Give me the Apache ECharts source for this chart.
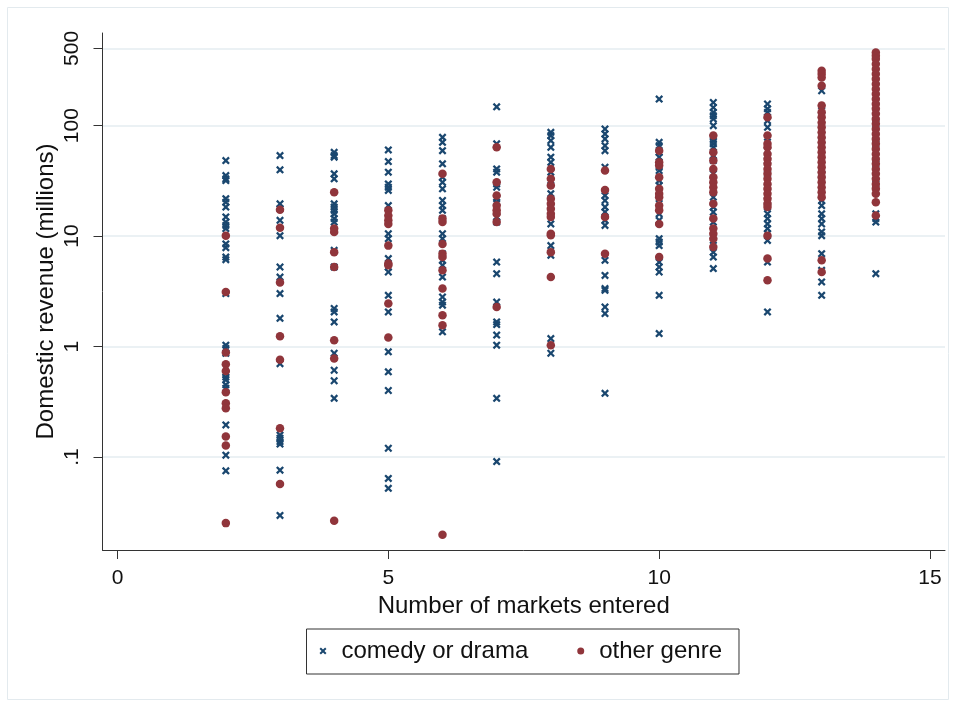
<!DOCTYPE html>
<html>
<head>
<meta charset="utf-8">
<script src="https://cdn.jsdelivr.net/npm/echarts@6/dist/echarts.min.js"></script>
<style>
html,body{margin:0;padding:0;background:#fff;}
#chart{width:956px;height:702px;}
</style>
</head>
<body>
<div id="chart"></div>
<script>
// Number of markets entered (x categories present in data)
const markets = [2, 3, 4, 5, 6, 7, 8, 9, 10, 11, 12, 13, 14];

// Domestic revenue (millions), comedy or drama, one list per market count
const comedyByMarkets = [
  [48.3, 35.3, 33, 31.8, 21.8, 20.3, 18.3, 14.9, 13.4, 12.5, 11.7, 8.5, 7.85, 6.46, 6.12, 3.02, 1.03, 0.96, 0.87, 0.57, 0.53, 0.50, 0.45, 0.42, 0.195, 0.104, 0.075],
  [53.6, 39.8, 19.6, 17.7, 13.9, 10.1, 5.25, 4.26, 3.02, 1.80, 0.70, 0.158, 0.148, 0.138, 0.131, 0.076, 0.0296],
  [57.4, 53.6, 51.8, 36.6, 33.0, 19.6, 18.3, 17.1, 15.9, 14.4, 13.4, 7.43, 5.25, 2.21, 2.06, 1.67, 0.87, 0.61, 0.49, 0.34],
  [60.3, 47.3, 37.9, 29.7, 27.7, 25.9, 18.9, 10.5, 9.48, 6.26, 5.25, 4.73, 2.91, 2.06, 0.896, 0.59, 0.40, 0.12, 0.064, 0.052],
  [78.4, 70.6, 59.4, 45.1, 34.1, 30.7, 26.8, 21.0, 18.9, 17.1, 14.4, 10.5, 9.48, 6.93, 6.03, 5.44, 4.26, 2.81, 2.53, 2.37, 1.36],
  [148, 68.4, 40.6, 37.9, 29.7, 27.7, 21.8, 20.3, 14.9, 13.4, 5.82, 4.57, 2.53, 1.67, 1.58, 1.27, 1.03, 0.34, 0.091],
  [87, 81.3, 73.2, 63.7, 51.8, 46.6, 37.9, 31.8, 24.2, 18.3, 12.9, 8.2, 6.7, 1.18, 0.87],
  [93.3, 84.1, 75.9, 65.9, 59.4, 42, 23.3, 21.0, 18.3, 16.5, 13.9, 12.5, 6.03, 4.41, 3.35, 3.23, 2.28, 1.99, 0.377],
  [174, 70.6, 65.9, 57.4, 51.8, 42, 39.2, 31.8, 28.7, 21.8, 15.9, 13.9, 9.48, 8.84, 8.2, 5.82, 5.25, 4.73, 2.91, 1.31],
  [162, 146, 132, 123, 115, 100, 78.4, 73.2, 68.4, 63.7, 53.6, 48.3, 36.6, 31.8, 22.5, 18.3, 16.5, 13.4, 9.14, 7.16, 6.46, 5.08],
  [157, 142, 132, 111, 96.5, 78.4, 59.4, 48.3, 36.6, 27.7, 21.0, 18.3, 15.9, 14.4, 12.9, 11.7, 10.5, 9.14, 5.82, 2.06],
  [207, 137, 73.2, 36.6, 21.0, 18.9, 15.9, 14.4, 12.9, 10.9, 10.1, 6.93, 4.9, 3.85, 2.91],
  [386, 255, 168, 104, 68.4, 45.1, 29.7, 15.9, 14.4, 13.4, 4.57]
];

// Domestic revenue (millions), other genre, one list per market count
const otherByMarkets = [
  [10.1, 3.12, 0.885, 0.69, 0.60, 0.385, 0.306, 0.276, 0.153, 0.127, 0.0252],
  [17.3, 11.9, 3.8, 1.24, 0.76, 0.182, 0.057],
  [25, 11.7, 10.9, 7.16, 5.25, 1.14, 0.78, 0.0265],
  [17.1, 15.4, 13.9, 12.9, 8.2, 5.64, 5.44, 2.45, 1.21],
  [36.6, 14.4, 13.4, 8.5, 6.93, 6.46, 4.9, 3.35, 1.92, 1.56, 0.0198],
  [63.7, 30.7, 23.3, 18.9, 17.1, 15.9, 13.4, 2.28],
  [40.6, 33.0, 28.7, 21.8, 19.6, 17.7, 15.9, 14.9, 10.5, 10.2, 7.16, 4.26, 1.03],
  [39.2, 26.2, 14.9, 6.93],
  [59.4, 46.6, 43.5, 34.1, 26.8, 24.2, 22.5, 18.9, 17.1, 12.9, 6.46],
  [81.3, 57.4, 48.3, 40.6, 34.1, 30.7, 27.7, 25, 19.6, 14.4, 11.7, 10.5, 9.48, 7.97],
  [119, 81.3, 68.4, 63.7, 55.5, 50, 45.1, 40.6, 36.6, 33.0, 29.7, 26.8, 24.2, 21.8, 19.6, 18.3, 10.1, 6.26, 3.98],
  [314, 293, 273, 230, 152, 132, 119, 107, 96.5, 87, 78.4, 70.6, 63.7, 57.4, 51.8, 46.6, 42, 37.9, 34.1, 30.7, 27.7, 25, 22.5, 6.03, 4.73],
  [459, 429, 401, 361, 325, 293, 264, 238, 215, 193, 174, 157, 142, 128, 115, 104, 93.3, 84.1, 75.9, 68.4, 61.6, 55.5, 50, 45.1, 40.6, 36.6, 33.0, 29.7, 26.8, 24.2, 20.3, 15.4]
];

// Tick labels
const xTicks = [0, 5, 10, 15];
const yTicks = [0.1, 1, 10, 100, 500];

const seriesNames = ['comedy or drama', 'other genre'];

function toPoints(lists) {
  const out = [];
  markets.forEach((m, i) => lists[i].forEach(v => out.push([m, v])));
  return out;
}

const FONT = '"Liberation Sans", Arial, Helvetica, sans-serif';
const BLUE = '#1a476f';
const RED = '#90353b';
const X_PATH = 'path://M2,0L5,3L8,0L10,2L7,5L10,8L8,10L5,7L2,10L0,8L3,5L0,2Z';

const chart = echarts.init(document.getElementById('chart'), null, {renderer: 'canvas'});
chart.setOption({
  animation: false,
  backgroundColor: '#ffffff',
  textStyle: {fontFamily: FONT},
  graphic: [{
    type: 'rect',
    shape: {x: 7.5, y: 7.5, width: 941, height: 692},
    style: {fill: 'none', stroke: '#e3eaee', lineWidth: 1},
    silent: true, z: -10
  }],
  grid: {left: 102.5, right: 11, top: 33, bottom: 152},
  legend: {
    left: 306.5, top: 629,
    orient: 'horizontal',
    padding: [10, 17, 11, 13],
    itemGap: 49,
    itemWidth: 7, itemHeight: 7,
    borderColor: '#333', borderWidth: 1, borderRadius: 0,
    backgroundColor: '#fff',
    selectedMode: false,
    textStyle: {fontSize: 24, color: '#111', fontFamily: FONT, padding: [0, 0, 0, 10]},
    data: [
      {name: seriesNames[0], icon: X_PATH, itemStyle: {color: BLUE}},
      {name: seriesNames[1], icon: 'circle', itemStyle: {color: RED}}
    ]
  },
  xAxis: {
    type: 'value',
    min: -0.277, max: 15.277,
    name: 'Number of markets entered',
    nameLocation: 'middle',
    nameGap: 44,
    nameMoveOverlap: false,
    nameTextStyle: {fontSize: 24, color: '#111', fontFamily: FONT},
    axisLine: {show: true, onZero: false, lineStyle: {color: '#333', width: 1}},
    axisTick: {show: true, length: 9, customValues: xTicks, lineStyle: {color: '#333'}},
    axisLabel: {customValues: xTicks, fontSize: 21, color: '#111', margin: 18, fontFamily: FONT},
    splitLine: {show: false}
  },
  yAxis: {
    type: 'log',
    logBase: 10,
    min: 0.01439, max: 690,
    name: 'Domestic revenue (millions)',
    nameLocation: 'middle',
    nameGap: 44,
    nameMoveOverlap: false,
    nameTextStyle: {fontSize: 24, color: '#111', fontFamily: FONT},
    axisLine: {show: true, onZero: false, lineStyle: {color: '#333', width: 1}},
    axisTick: {show: true, length: 9, customValues: yTicks, lineStyle: {color: '#333'}},
    axisLabel: {
      customValues: yTicks, fontSize: 21, color: '#111', margin: 20, rotate: 90, fontFamily: FONT,
      formatter: v => (Math.abs(v - 0.1) < 1e-9 ? '.1' : String(Math.round(v)))
    },
    splitLine: {show: true, lineStyle: {color: '#e4ecf0', width: 1.5}}
  },
  series: [
    {
      name: seriesNames[0], type: 'scatter',
      symbol: X_PATH, symbolSize: 8,
      itemStyle: {color: BLUE, opacity: 1},
      emphasis: {disabled: true},
      data: toPoints(comedyByMarkets)
    },
    {
      name: seriesNames[1], type: 'scatter',
      symbol: 'circle', symbolSize: 8.5,
      itemStyle: {color: RED, opacity: 1},
      emphasis: {disabled: true},
      data: toPoints(otherByMarkets)
    }
  ]
});
</script>
</body>
</html>
